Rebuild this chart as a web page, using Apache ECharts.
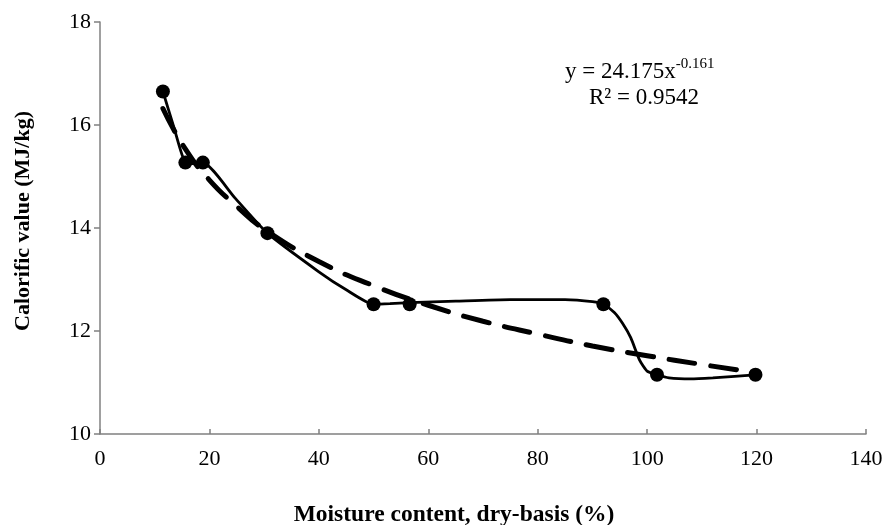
<!DOCTYPE html>
<html>
<head>
<meta charset="utf-8">
<script src="https://cdn.jsdelivr.net/npm/echarts@6/dist/echarts.min.js"></script>
<style>
  html, body { margin: 0; padding: 0; background: #fff; }
  #chart { width: 887px; height: 525px; }
</style>
</head>
<body>
<div id="chart"></div>
<script>
// measured points (moisture %, calorific value MJ/kg)
var moisture = [11.5, 15.6, 18.8, 30.6, 50.0, 56.6, 92.0, 101.8, 119.8];
var calorific = [16.65, 15.27, 15.27, 13.9, 12.52, 12.52, 12.52, 11.15, 11.15];

// solid smoothed curve
var curveX = [11.5, 13.5, 15.6, 17.2, 18.8, 24.7, 30.6, 40, 45, 50, 53, 56.6, 65, 75, 85, 90, 92, 94, 95.5, 97, 98.6, 100, 101.8, 104, 108, 112, 116, 119.8];
var curveY = [16.65, 15.96, 15.27, 15.25, 15.27, 14.58, 13.9, 13.15, 12.8, 12.52, 12.53, 12.55, 12.58, 12.61, 12.61, 12.57, 12.52, 12.36, 12.15, 11.87, 11.44, 11.22, 11.15, 11.09, 11.07, 11.09, 11.12, 11.15];

// power trendline
var trendX = [11.5, 15.5, 20, 25, 30, 40, 50, 60, 70, 80, 90, 100, 110, 120];
var trendY = [16.32, 15.55, 14.93, 14.42, 13.98, 13.35, 12.88, 12.5, 12.19, 11.94, 11.71, 11.52, 11.35, 11.19];

var xTicks = [0, 20, 40, 60, 80, 100, 120, 140];
var yTicks = [10, 12, 14, 16, 18];

function zip(a, b) {
    var out = [];
    for (var i = 0; i < a.length; i++) {
        out.push([a[i], b[i]]);
    }
    return out;
}

var font = 'Liberation Serif';
var chart = echarts.init(document.getElementById('chart'));
chart.setOption({
    backgroundColor: '#fff',
    animation: false,
    grid: { left: 100, right: 21, top: 22, bottom: 91, outerBoundsMode: 'none' },
    xAxis: {
        type: 'value',
        min: xTicks[0],
        max: xTicks[xTicks.length - 1],
        interval: 20,
        name: 'Moisture content, dry-basis (%)',
        nameLocation: 'middle',
        nameGap: 69,
        nameTextStyle: { fontFamily: font, fontSize: 23.5, fontWeight: 'bold', color: '#000', padding: [0, 58, 0, 0] },
        axisLine: { lineStyle: { color: '#808080', width: 1.5 } },
        axisTick: { inside: true, length: 5, lineStyle: { color: '#808080', width: 1.5 } },
        axisLabel: { fontFamily: font, fontSize: 22, color: '#000', margin: 14 },
        splitLine: { show: false }
    },
    yAxis: {
        type: 'value',
        min: yTicks[0],
        max: yTicks[yTicks.length - 1],
        interval: 2,
        name: 'Calorific value (MJ/kg)',
        nameLocation: 'middle',
        nameGap: 66,
        nameRotate: 90,
        nameTextStyle: { fontFamily: font, fontSize: 22, fontWeight: 'bold', color: '#000', padding: [0, 0, 0, 14] },
        axisLine: { show: true, lineStyle: { color: '#808080', width: 1.5 } },
        axisTick: { show: true, length: 6, lineStyle: { color: '#808080', width: 1.5 } },
        axisLabel: { fontFamily: font, fontSize: 22, color: '#000', margin: 9 },
        splitLine: { show: false }
    },
    series: [{
        // trendline
        type: 'line',
        data: zip(trendX, trendY),
        smooth: true,
        showSymbol: false,
        lineStyle: { color: '#000', width: 5, type: [26, 16], cap: 'round' },
        z: 2
    }, {
        type: 'line',
        data: zip(curveX, curveY),
        smooth: 0.2,
        showSymbol: false,
        lineStyle: { color: '#000', width: 2.8 },
        z: 3
    }, {
        type: 'scatter',
        data: zip(moisture, calorific),
        symbol: 'circle',
        symbolSize: 14,
        itemStyle: { color: '#000', opacity: 1 },
        z: 4
    }],
    graphic: [{
        type: 'text',
        left: 565,
        top: 57,
        style: {
            text: '{a|y = 24.175x}{b|-0.161}',
            rich: {
                a: { fontFamily: font, fontSize: 23, fill: '#000' },
                b: { fontFamily: font, fontSize: 15, fill: '#000', verticalAlign: 'top', padding: [0, 0, 14, 0] }
            }
        }
    }, {
        type: 'text',
        left: 589,
        top: 86,
        style: { text: 'R² = 0.9542', fontFamily: font, fontSize: 23, fill: '#000' }
    }]
});
</script>
</body>
</html>
